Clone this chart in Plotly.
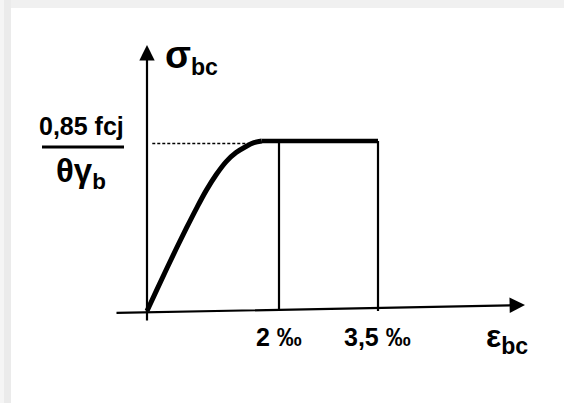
import plotly.graph_objects as go

# Data (strain in per-mille, stress normalised to plateau = 1)
curve_strain = [0.0, 0.15, 0.30, 0.45, 0.60, 0.75, 0.90, 1.05, 1.20, 1.35, 1.50, 1.62, 1.74]
curve_stress = [0.0, 0.126, 0.250, 0.372, 0.490, 0.604, 0.711, 0.803, 0.879, 0.932, 0.968, 0.990, 1.0]
plateau_strain = [1.74, 3.5]
plateau_stress = [1.0, 1.0]
tick_strain = [2.0, 3.5]
tick_labels = ["2 ‰", "3,5 ‰"]
dashed_strain = [0.08, 1.58]
dashed_stress = [0.985, 0.985]

W, H = 564, 403
PX = 66.0      # pixels per per-mille
PY = 170.0     # pixels per stress unit
X0, Y0 = 147.0, 311.0
xr = [(0 - X0) / PX, (W - X0) / PX]
yr = [(Y0 - H) / PY, (Y0 - 0) / PY]

FONT = "Liberation Sans, Arial, sans-serif"
fig = go.Figure()

# verticals at the tick strains
for xs in tick_strain:
    fig.add_trace(go.Scatter(x=[xs, xs], y=[0, 1.0], mode="lines",
                             line=dict(color="black", width=2.2), hoverinfo="skip"))
# dashed level line
fig.add_trace(go.Scatter(x=dashed_strain, y=dashed_stress, mode="lines",
                         line=dict(color="black", width=1.6, dash="3px,2px"), hoverinfo="skip"))
# parabola part
fig.add_trace(go.Scatter(x=curve_strain, y=curve_stress, mode="lines",
                         line=dict(color="black", width=5, shape="spline", smoothing=1.0),
                         hoverinfo="skip"))
# rectangle part
fig.add_trace(go.Scatter(x=plateau_strain, y=plateau_stress, mode="lines",
                         line=dict(color="black", width=4.5), hoverinfo="skip"))

def px2x(p):
    return (p - X0) / PX

def py2y(p):
    return (Y0 - p) / PY

ann = []
# axes with arrows
ann.append(dict(x=0, y=py2y(45), ax=0, ay=py2y(322), xref="x", yref="y", axref="x", ayref="y",
                showarrow=True, arrowhead=2, arrowsize=1.4, arrowwidth=2.2, arrowcolor="black", text=""))
ann.append(dict(x=px2x(525), y=py2y(305), ax=px2x(115), ay=py2y(313), xref="x", yref="y",
                axref="x", ayref="y", showarrow=True, arrowhead=2, arrowsize=1.4, arrowwidth=2.2,
                arrowcolor="black", text=""))
# tick labels
tick_centers = [278.5, 377]
for xs, lab, c in zip(tick_strain, tick_labels, tick_centers):
    ann.append(dict(x=xs, y=py2y(337), xref="x", yref="y", text=lab, showarrow=False,
                    xshift=c - (X0 + xs * PX),
                    font=dict(family=FONT, size=25, color="black", weight="bold")))
# axis titles
ann.append(dict(x=px2x(191), y=py2y(57), xref="x", yref="y",
                text="<span style='font-size:38px'>σ</span><sub>bc</sub>", showarrow=False,
                font=dict(family=FONT, size=33, color="black", weight="bold")))
ann.append(dict(x=px2x(507), y=py2y(338), xref="x", yref="y",
                text="<span style='font-size:32px'>ε</span><sub>bc</sub>", showarrow=False,
                font=dict(family=FONT, size=33, color="black", weight="bold")))
# fraction label
ann.append(dict(x=px2x(81), y=py2y(126), xref="x", yref="y", text="0,85 fcj",
                showarrow=False, font=dict(family=FONT, size=25, color="black", weight="bold")))
ann.append(dict(x=px2x(81), y=py2y(173), xref="x", yref="y",
                text="<span style='font-size:33px'>θγ</span><sub>b</sub>",
                showarrow=False, font=dict(family=FONT, size=32, color="black", weight="bold")))

shapes = [
    dict(type="line", xref="x", yref="y", x0=px2x(42), x1=px2x(124),
         y0=py2y(147), y1=py2y(147), line=dict(color="black", width=3)),
    # scan frame shading
    dict(type="rect", xref="paper", yref="paper", x0=0, x1=1, y0=1 - 8 / H, y1=1,
         fillcolor="#f0f0f0", line=dict(width=0), layer="below"),
    dict(type="rect", xref="paper", yref="paper", x0=0, x1=4 / W, y0=0, y1=1,
         fillcolor="#f5f5f5", line=dict(width=0), layer="below"),
    dict(type="rect", xref="paper", yref="paper", x0=4 / W, x1=11 / W, y0=0, y1=1,
         fillcolor="#ebebeb", line=dict(width=0), layer="below"),
]

fig.update_layout(
    width=W, height=H, margin=dict(l=0, r=0, t=0, b=0),
    paper_bgcolor="white", plot_bgcolor="white", showlegend=False,
    xaxis=dict(range=xr, visible=False, fixedrange=True),
    yaxis=dict(range=yr, visible=False, fixedrange=True),
    annotations=ann, shapes=shapes,
)
fig.write_html("out.html", config={"displayModeBar": False},
               post_script="document.body.style.margin='0';document.body.style.overflow='hidden';")
